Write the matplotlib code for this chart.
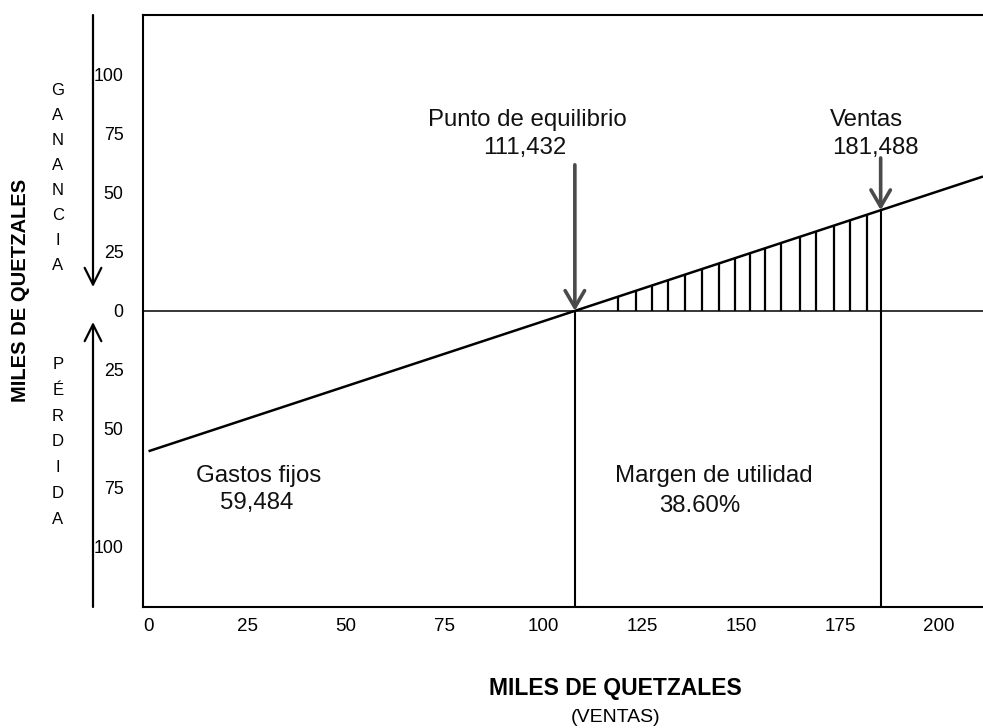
import matplotlib
matplotlib.use("Agg")
import matplotlib.pyplot as plt
import numpy as np

# ---- data (thousands of quetzales) ----
fixed_costs = 59.484          # Gastos fijos
breakeven_x = 107.9           # Punto de equilibrio position read on the drawn axis
sales_x = 185.3               # Ventas position read on the drawn axis
x_ticks = [0, 25, 50, 75, 100, 125, 150, 175, 200]
x_tick_labels = ["0", "25", "50", "75", "100", "125", "150", "175", "200"]
y_ticks = [100, 75, 50, 25, 0, -25, -50, -75, -100]
y_tick_labels = ["100", "75", "50", "25", "0", "25", "50", "75", "100"]
hatch_x = [118.7, 123.5, 127.3, 131.5, 135.9, 140.2, 144.4, 148.4, 152.2,
           156.0, 160.2, 164.9, 168.9, 173.5, 177.6, 181.8]
labels_top = ["Punto de equilibrio", "111,432", "Ventas", "181,488"]
labels_bottom = ["Gastos fijos", "59,484", "Margen de utilidad", "38.60%"]

plt.rcParams['font.family'] = ['Liberation Sans', 'DejaVu Sans']

W, H = 983, 728
fig = plt.figure(figsize=(W / 100, H / 100), dpi=100)
ax = fig.add_axes([143 / W, 1 - 607 / H, 1 - 143 / W, (607 - 15) / H])

xmin, xmax = -1.4, 211.2
ymin, ymax = -125.5, 125.4
ax.set_xlim(xmin, xmax)
ax.set_ylim(ymin, ymax)


def line_y(x):
    return -fixed_costs + fixed_costs * np.asarray(x) / breakeven_x


# zero line
ax.axhline(0, color='black', lw=1.1)

# cost/profit line
xs = np.array([0, xmax])
ax.plot(xs, line_y(xs), color='black', lw=1.8, solid_capstyle='butt')

# hatch between break-even and sales
hx = np.array(hatch_x)
ax.vlines(hx, 0, line_y(hx), color='black', lw=1.6)

# vertical lines below
ax.vlines([breakeven_x], ymin, 0, color='black', lw=1.5)
ax.vlines([sales_x], ymin, line_y(sales_x), color='black', lw=1.5)

# arrows to the points
arrow_kw = dict(arrowstyle='->,head_length=0.6,head_width=0.35', lw=2.6,
                color='#4a4a4a', shrinkA=0, shrinkB=0, mutation_scale=20)
ax.annotate('', xy=(breakeven_x, 0), xytext=(breakeven_x, 61.9),
            arrowprops=arrow_kw)
ax.annotate('', xy=(sales_x, float(line_y(sales_x))), xytext=(sales_x, 64.8),
            arrowprops=arrow_kw)

# texts
tk = dict(ha='center', va='center', fontsize=17.3, color='#111111')
ax.text(95.8, 81.0, labels_top[0], **tk)
ax.text(95.3, 69.0, labels_top[1], **tk)
ax.text(181.6, 81.0, labels_top[2], **tk)
ax.text(183.9, 69.0, labels_top[3], **tk)
ax.text(27.9, -70.0, labels_bottom[0], **tk)
ax.text(27.4, -81.5, labels_bottom[1], **tk)
ax.text(143.1, -70.0, labels_bottom[2], **tk)
ax.text(139.6, -82.5, labels_bottom[3], **tk)

# ticks
ax.set_xticks(x_ticks)
ax.set_xticklabels(x_tick_labels, fontsize=13.5)
ax.set_yticks(y_ticks)
ax.set_yticklabels(y_tick_labels, fontsize=12.8)
ax.tick_params(axis='x', length=0, pad=8)
ax.tick_params(axis='y', length=0, pad=14)

for side in ['left', 'bottom', 'top']:
    ax.spines[side].set_linewidth(1.5)
ax.spines['right'].set_visible(False)

# axis titles
fig.text(21 / W, 1 - 290 / H, "MILES DE QUETZALES", rotation=90, ha='center',
         va='center', fontsize=14.5, fontweight='bold')
fig.text(615 / W, 1 - 688 / H, "MILES DE QUETZALES", ha='center', va='center',
         fontsize=16.5, fontweight='bold')
fig.text(616 / W, 1 - 718 / H, "(VENTAS)", ha='center', va='center', fontsize=14)

# vertical words
fig.text(58 / W, 1 - 178 / H, "\n".join("GANANCIA"), ha='center', va='center',
         fontsize=12, linespacing=1.84)
fig.text(58 / W, 1 - 442 / H, "\n".join("PÉRDIDA"), ha='center', va='center',
         fontsize=12, linespacing=1.9)

# side arrows
side_kw = dict(arrowstyle='->,head_length=0.6,head_width=0.3', lw=1.6,
               color='black', shrinkA=0, shrinkB=0, mutation_scale=20)
fig.add_artist(matplotlib.patches.FancyArrowPatch(
    (93 / W, 1 - 15 / H), (93 / W, 1 - 287 / H), transform=fig.transFigure,
    **side_kw))
fig.add_artist(matplotlib.patches.FancyArrowPatch(
    (93 / W, 1 - 607 / H), (93 / W, 1 - 322 / H), transform=fig.transFigure,
    **side_kw))

fig.savefig("out.png", dpi=100)
